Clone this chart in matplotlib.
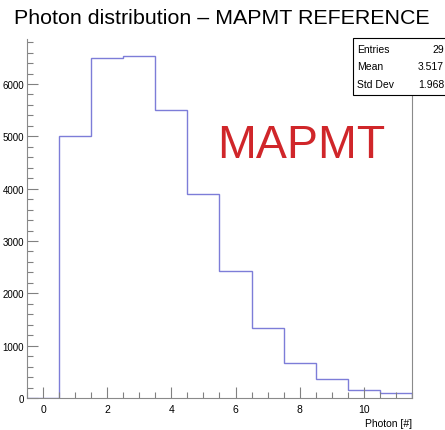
import numpy as np
import matplotlib
matplotlib.use("Agg")
import matplotlib.pyplot as plt
from matplotlib.patches import Rectangle
from matplotlib.ticker import MultipleLocator

# photon counts per bin (bins centred on 0..11)
photons = [0, 1, 2, 3, 4, 5, 6, 7, 8, 9, 10, 11]
counts = [0, 5000, 6495, 6533, 5505, 3905, 2419, 1333, 667, 362, 152, 95]

stat_names = ["Entries", "Mean", "Std Dev"]
stat_values = ["29", "3.517", "1.968"]

plain = ["Liberation Sans", "DejaVu Sans"]

W, H = 445, 431
fig = plt.figure(figsize=(W / 100, H / 100), dpi=100)
ax = fig.add_axes([27 / W, (H - 399) / H, (412 - 27) / W, (399 - 40) / H])

edges = np.append(np.array(photons) - 0.5, photons[-1] + 0.5)
ax.stairs(counts, edges, color="#7d7dd8", linewidth=1.0, baseline=0)

ax.set_xlim(edges[0], edges[-1])
ax.set_ylim(0, max(counts) * 1.05)

ax.xaxis.set_major_locator(MultipleLocator(2))
ax.xaxis.set_minor_locator(MultipleLocator(0.5))
ax.yaxis.set_major_locator(MultipleLocator(1000))
ax.yaxis.set_minor_locator(MultipleLocator(200))

ax.tick_params(which="both", direction="in", color="#808080", width=0.8)
ax.tick_params(which="major", length=8)
ax.tick_params(which="minor", length=4)
ax.tick_params(axis="y", which="major", pad=2, labelsize=7)
ax.tick_params(axis="x", which="major", pad=4, labelsize=7.5)
for lbl in ax.get_xticklabels() + ax.get_yticklabels():
    lbl.set_family(plain)

ax.spines["top"].set_visible(False)
for s in ["left", "bottom", "right"]:
    ax.spines[s].set_color("#8a8a8a")
    ax.spines[s].set_linewidth(0.8)

# title
fig.text(14 / W, 1 - 18 / H, "Photon distribution \u2013 MAPMT REFERENCE",
         fontsize=15.4, family=plain, va="center", ha="left")

# axis title
fig.text(412 / W, 1 - 424 / H, "Photon [#]", fontsize=7.5, family=plain,
         ha="right", va="center")

# big label
fig.text(217 / W, 1 - 158 / H, "MAPMT", fontsize=33.5, family=plain,
         color="#d0262a", ha="left", va="baseline")

# stats box
box = Rectangle((353 / W, 1 - 96 / H), 100 / W, 57 / H, transform=fig.transFigure,
                facecolor="white", edgecolor="black", linewidth=0.8, zorder=5)
fig.add_artist(box)
for i, (name, val) in enumerate(zip(stat_names, stat_values)):
    yy = 1 - (50 + 17.5 * i) / H
    fig.text(357 / W, yy, name, fontsize=7.5, family=plain, ha="left",
             va="center", zorder=6)
    fig.text(444 / W, yy, val, fontsize=7.5, family=plain, ha="right",
             va="center", zorder=6)

fig.savefig("out.png", dpi=100)
